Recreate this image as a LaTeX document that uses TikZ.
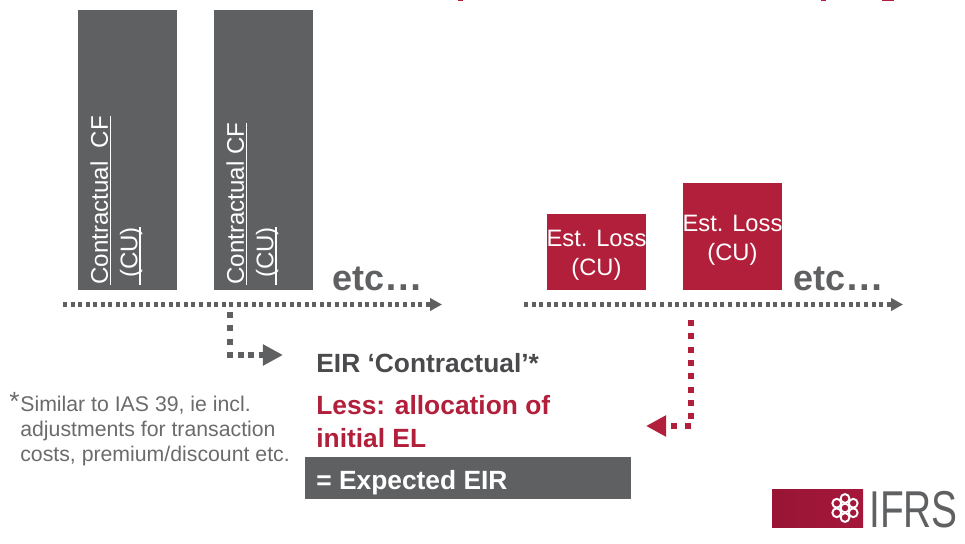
\documentclass[tikz,border=0pt]{standalone}
\usepackage{fontspec}
\setmainfont{Liberation Sans}
\usepackage{xcolor}
\usetikzlibrary{arrows.meta}
\definecolor{ifrsgray}{HTML}{5F6062}
\definecolor{ifrsred}{HTML}{B21F3A}
\definecolor{ifrslogo}{HTML}{A5173A}
\definecolor{darktext}{HTML}{4A4A4C}
\definecolor{notetext}{HTML}{6B6B6D}

\newcommand{\cfline}[1]{\setbox0\hbox{#1}\rlap{\rule[-1.9pt]{\wd0}{0.75pt}}\box0}

\tikzset{
cfbar/.style={fill=ifrsgray, inner sep=0, minimum width=1.98cm, minimum height=5.6cm},
lossbar/.style={fill=ifrsred, text=white, inner sep=0, minimum width=1.98cm, align=center, font=\fontsize{13.5}{16.5}\selectfont},
cflabel/.style={text=white, inner sep=0, rotate=90, anchor=north west, align=left, font=\fontsize{13.7}{16.8}\selectfont},
etclabel/.style={text=ifrsgray, inner sep=0, anchor=base west, font=\fontsize{20.5}{24}\selectfont\bfseries},
eirlabel/.style={inner sep=0, anchor=base west, font=\fontsize{15}{18.2}\selectfont\bfseries},
notelabel/.style={text=notetext, inner sep=0, anchor=base west, font=\fontsize{12.1}{14.2}\selectfont},
timeline/.style={ifrsgray, line width=2.8pt, dash pattern=on 2.3pt off 2pt, -{Triangle[length=6.8pt,width=7pt]}},
elbowdots/.style={line width=3.4pt, dash pattern=on 3.4pt off 4.2pt},
elbowtip/.style={line width=3.4pt, dash pattern=on 3.4pt off 2.6pt, -{Triangle[length=11.4pt,width=11.4pt]}}
}

\begin{document}
\begin{tikzpicture}[x=0.02cm,y=-0.02cm]
\useasboundingbox (0,0) rectangle (965,544);

% clipped title
{
\fill[ifrsred] (458,0) rectangle (463,1);
\fill[ifrsred] (821,0) rectangle (826,1);
\fill[ifrsred] (882,0) rectangle (894,1.2);
}

% contractual bars
{
\node[cfbar] (cfa) at (127.5,150) {};
\node[cfbar] (cfb) at (263.5,150) {};

\node[cflabel] (cfatext) at (90,285) {\cfline{Contractual\ \ CF}\\\cfline{\ (CU)}};
\node[cflabel] (cfbtext) at (226,285) {\cfline{Contractual CF}\\\cfline{\ (CU)}};
}

% loss bars
{
\node[lossbar, minimum height=1.52cm] (lossa) at (596.5,252) {};
\node[lossbar, minimum height=2.14cm] (lossb) at (732.5,236.5) {};

\node[lossbar, fill=none] (lossatext) at (596.5,255) {Est. Loss\\(CU)};
\node[lossbar, fill=none] (lossbtext) at (732.5,240) {Est. Loss\\(CU)};
}

% time lines
{
\coordinate (cfstart) at (63,304.5);
\coordinate (cfend) at (442,304.5);
\coordinate (lossstart) at (524,304.5);
\coordinate (lossend) at (903,304.5);

\draw[timeline] (cfstart)--(cfend);
\draw[timeline] (lossstart)--(lossend);

\node[etclabel] (etca) at (332,290.5) {etc{\fontsize{22}{24}\selectfont …}};
\node[etclabel] (etcb) at (793,290.5) {etc{\fontsize{22}{24}\selectfont …}};
}

% elbows
{
\coordinate (cftop) at (230,312);
\coordinate (cfbottom) at (230,346);
\coordinate (cfcorner) at (227,355);
\coordinate (cftip) at (283,355);
\coordinate (losstop) at (691,320);
\coordinate (lossbottom) at (691,420);
\coordinate (losscorner) at (691,426);
\coordinate (losstip) at (646,426);

\draw[elbowdots, ifrsgray] (cftop)--(cfbottom);
\draw[elbowtip, ifrsgray] (cfcorner)--(cftip);
\draw[elbowdots, ifrsred] (losstop)--(lossbottom);
\draw[elbowtip, ifrsred, dash pattern=on 3.4pt off 4.6pt] (losscorner)--(losstip);
}

% labellings
{
\node[eirlabel, text=darktext] (eir) at (316,373) {EIR ‘Contractual’*};
\node[eirlabel, text=ifrsred] (lessa) at (316,415) {Less: allocation of};
\node[eirlabel, text=ifrsred] (lessb) at (316,447) {initial EL};

\node[fill=ifrsgray, inner sep=0, minimum width=6.52cm, minimum height=0.84cm] (expected) at (468,478) {};
\node[eirlabel, text=white] (expectedtext) at (316,489) {= Expected EIR};

\node[notelabel, font=\fontsize{15}{16}\selectfont] (star) at (9,411) {*};
\node[notelabel] (notea) at (20,412) {Similar to IAS 39, ie incl.};
\node[notelabel] (noteb) at (20,437) {adjustments for transaction};
\node[notelabel] (notec) at (20,461) {costs, premium/discount etc.};
}

% logo
{
\shade[left color=ifrslogo!92!black, right color=ifrslogo] (772,489) rectangle (863,527);
\foreach \a in {30,90,...,330}
{
\draw[white, line width=1.1pt] (845,508)++(\a:-9.5) circle (4.4);
}
\draw[white, line width=1.1pt] (845,508) circle (4.4);
\node[text=ifrsgray, inner sep=0, anchor=base west, xscale=0.75, font=\fontsize{29.5}{32}\selectfont] (ifrs) at (869,527) {IFRS};
}

\end{tikzpicture}
\end{document}
